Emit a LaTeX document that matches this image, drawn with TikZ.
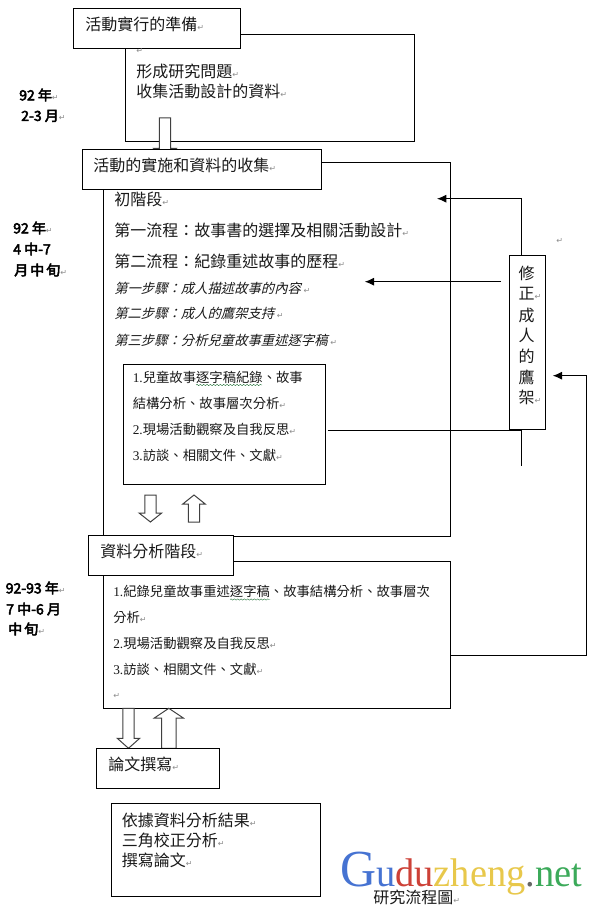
\documentclass[tikz,border=0pt]{standalone}
\usepackage{fontspec}
\setmainfont{Liberation Serif}
\newfontfamily\cjk{Noto Sans CJK TC}
\newfontfamily\cjkb{Noto Sans CJK TC}[FakeBold=3.5]
\newfontfamily\cjki{Noto Sans CJK TC}[FakeSlant=0.25]
\newfontfamily\marksf{DejaVu Sans}
\newfontfamily\latinr{Liberation Serif}
\usetikzlibrary{arrows.meta,decorations.pathmorphing}
\definecolor{gblue}{RGB}{70,115,210}
\definecolor{gred}{RGB}{205,65,55}
\definecolor{gyel}{RGB}{232,200,75}
\definecolor{ggreen}{RGB}{60,170,90}
\newcommand\pmk{\textcolor{black!45}{\marksf\fontsize{6}{6}\selectfont ↵}}
\newcommand\ltn[1]{{\latinr #1}}
\newcommand\fc{\char"FF1A\relax}
\tikzset{
  x=0.75pt,y=-0.75pt,
  boxst/.style={draw=black,fill=white,line width=0.75pt,inner sep=0pt,outer sep=0pt,anchor=north west},
  bigtxt/.style={font=\cjk\fontsize{12}{12}\selectfont,inner sep=0pt,anchor=west,text=black!90},
  smalltxt/.style={font=\cjk\fontsize{10}{10}\selectfont,inner sep=0pt,anchor=west,text=black!90},
  itxt/.style={font=\cjki\fontsize{10}{10}\selectfont,inner sep=0pt,anchor=west,text=black!90},
  datetxt/.style={font=\cjkb\fontsize{10.5}{10.5}\selectfont,inner sep=0pt,anchor=west},
  conn/.style={draw=black,line width=0.75pt},
  arr/.style={conn,-{Latex[length=7pt,width=6pt]}},
  blockarr/.style={draw=black!75,fill=white,line width=0.75pt,line join=miter},
  wavy/.style={draw=ggreen!70!black,line width=0.3pt,decorate,decoration={snake,amplitude=0.5pt,segment length=2.5pt}}
}
% name, x1, y1, x2, y2
\newcommand\bx[5]{\node[boxst,minimum width={(#4-#2)*0.75pt},minimum height={(#5-#3)*0.75pt}] (#1) at (#2,#3) {};}
% block arrow: xc, tail, headbase, tip, halfshaft, halfhead
\newcommand\blockar[6]{\draw[blockarr] (#1-#5,#2) -- (#1+#5,#2) -- (#1+#5,#3) -- (#1+#6,#3) -- (#1,#4) -- (#1-#6,#3) -- (#1-#5,#3) -- cycle;}
\begin{document}
\begin{tikzpicture}
\useasboundingbox (0,0) rectangle (589,912);
\fill[white] (0,0) rectangle (589,912);

% top section
\bx{outerA}{125}{34.5}{414.5}{141.5}
\bx{titleA}{73.6}{8.5}{240.5}{48.5}
\node[bigtxt] (tA) at (85,24.5) {活動實行的準備\pmk};
\node[bigtxt] (tA0) at (136,51) {\pmk};
\node[bigtxt] (tA1) at (136,71) {形成研究問題\pmk};
\node[bigtxt] (tA2) at (136,91) {收集活動設計的資料\pmk};

\blockar{165}{118}{148.5}{158}{5.6}{11.2}

% second section
\bx{outerB}{103}{162.5}{450.7}{536.5}
\bx{titleB}{82}{149.5}{321}{189.5}
\node[bigtxt] (tB) at (93,165.5) {活動的實施和資料的收集\pmk};
\node[bigtxt] (tB1) at (114,199) {初階段\pmk};
\node[bigtxt] (tB2) at (114,230) {第一流程\fc 故事書的選擇及相關活動設計\pmk};
\node[bigtxt] (tB3) at (114,261) {第二流程\fc 紀錄重述故事的歷程\pmk};
\node[itxt] (tB4) at (114,288) {第一步驟\fc 成人描述故事的內容\kern2pt\pmk};
\node[itxt] (tB5) at (114,313.5) {第二步驟\fc 成人的鷹架支持\kern2pt\pmk};
\node[itxt] (tB6) at (114,340) {第三步驟\fc 分析兒童故事重述逐字稿\kern2pt\pmk};

\bx{inner}{123}{364.3}{325}{484.3}
\node[smalltxt] (i1) at (132.5,377) {\ltn{1.}兒童故事逐字稿紀錄、故事};
\node[smalltxt] (i2) at (132.5,403.3) {結構分析、故事層次分析\pmk};
\node[smalltxt] (i3) at (132.5,429) {\ltn{2.}現場活動觀察及自我反思\pmk};
\node[smalltxt] (i4) at (132.5,455) {\ltn{3.}訪談、相關文件、文獻\pmk};
\draw[wavy] (196,385) -- (262,385);

\blockar{150.4}{495}{513}{522}{5.6}{11.3}
\blockar{194}{522}{504}{495}{5.6}{11.2}

% feedback box
\bx{fix}{509}{256}{545.5}{429.3}
\node[bigtxt,anchor=center] (f1) at (526.6,273) {修};
\node[bigtxt,anchor=center] (f2) at (526.6,293.5) {正\rlap{\pmk}};
\node[bigtxt,anchor=center] (f3) at (526.6,315) {成};
\node[bigtxt,anchor=center] (f4) at (526.6,335) {人};
\node[bigtxt,anchor=center] (f5) at (526.6,356) {的};
\node[bigtxt,anchor=center] (f6) at (526.6,377) {鷹};
\node[bigtxt,anchor=center] (f7) at (526.6,397) {架\rlap{\pmk}};

\coordinate (fixtop) at (521.3,256);
\coordinate (tipB1) at (437,198.7);
\coordinate (startB4) at (501,281.7);
\coordinate (tipB4) at (364.7,281.7);
\coordinate (inOut) at (327.7,430.3);
\coordinate (fixbot) at (521.3,430.3);
\coordinate (fixend) at (521.3,465.7);
\coordinate (cOut) at (450.7,655.3);
\coordinate (cRight) at (586,655.3);
\coordinate (tipFix) at (552.7,375.7);

\draw[arr] (fixtop) |- (tipB1);
\draw[arr] (startB4) -- (tipB4);
\draw[conn] (inOut) -- (fixbot) -- (fixend);

% analysis section
\bx{outerC}{103}{561.3}{450.7}{708.3}
\bx{titleC}{88.7}{535.3}{233.7}{575.3}
\node[bigtxt] (tC) at (100,551.7) {資料分析階段\pmk};
\node[smalltxt] (c1) at (113,591.7) {\ltn{1.}紀錄兒童故事重述逐字稿、故事結構分析、故事層次};
\node[smalltxt] (c2) at (113,617.5) {分析\pmk};
\node[smalltxt] (c3) at (113,643) {\ltn{2.}現場活動觀察及自我反思\pmk};
\node[smalltxt] (c4) at (113,669) {\ltn{3.}訪談、相關文件、文獻\pmk};
\node[smalltxt] (c5) at (113,696) {\pmk};
\draw[wavy] (230,599.5) -- (270,599.5);

\draw[arr] (cOut) -- (cRight) |- (tipFix);

\blockar{128.5}{708.3}{738.3}{748.3}{5.6}{11.2}
\blockar{168.8}{748.3}{718}{708.3}{7.2}{14.5}

% thesis
\bx{thesis}{96}{748.3}{219.3}{788.3}
\node[bigtxt] (tD) at (108,764.3) {論文撰寫\pmk};
\bx{result}{111}{803.3}{320}{896.3}
\node[bigtxt] (r1) at (121.6,820) {依據資料分析結果\pmk};
\node[bigtxt] (r2) at (121.6,840) {三角校正分析\pmk};
\node[bigtxt] (r3) at (121.6,860) {撰寫論文\pmk};

% date labels
\node[datetxt] (d1) at (19,95) {92 年\pmk};
\node[datetxt] (d2) at (21,116) {2-3 月\pmk};
\node[datetxt] (d3) at (13,228) {92 年\pmk};
\node[datetxt] (d4) at (13,249) {4 中-7};
\node[datetxt] (d5) at (14,270) {月\kern1.5pt 中\kern1.5pt 旬\pmk};
\node[datetxt] (d6) at (5.5,588) {92-93 年\pmk};
\node[datetxt] (d7) at (6,609) {7 中-6 月};
\node[datetxt] (d8) at (8,629) {中\kern1.5pt 旬\pmk};
\node[bigtxt] (mk) at (556,241) {\pmk};

% watermark
\node[inner sep=0pt,anchor=base west,font=\fontsize{30}{30}\selectfont] (wm) at (340,886.7)
  {\scalebox{0.96}[1]{\textcolor{gblue}{\fontsize{39}{39}\selectfont G}\textcolor{gblue}{u}\textcolor{gred}{du}\textcolor{gyel}{zheng}\textcolor{black!60}{.}\textcolor{ggreen}{net}}};
\node[bigtxt] (cap) at (373,897.5) {研究流程圖\pmk};
\end{tikzpicture}
\end{document}
